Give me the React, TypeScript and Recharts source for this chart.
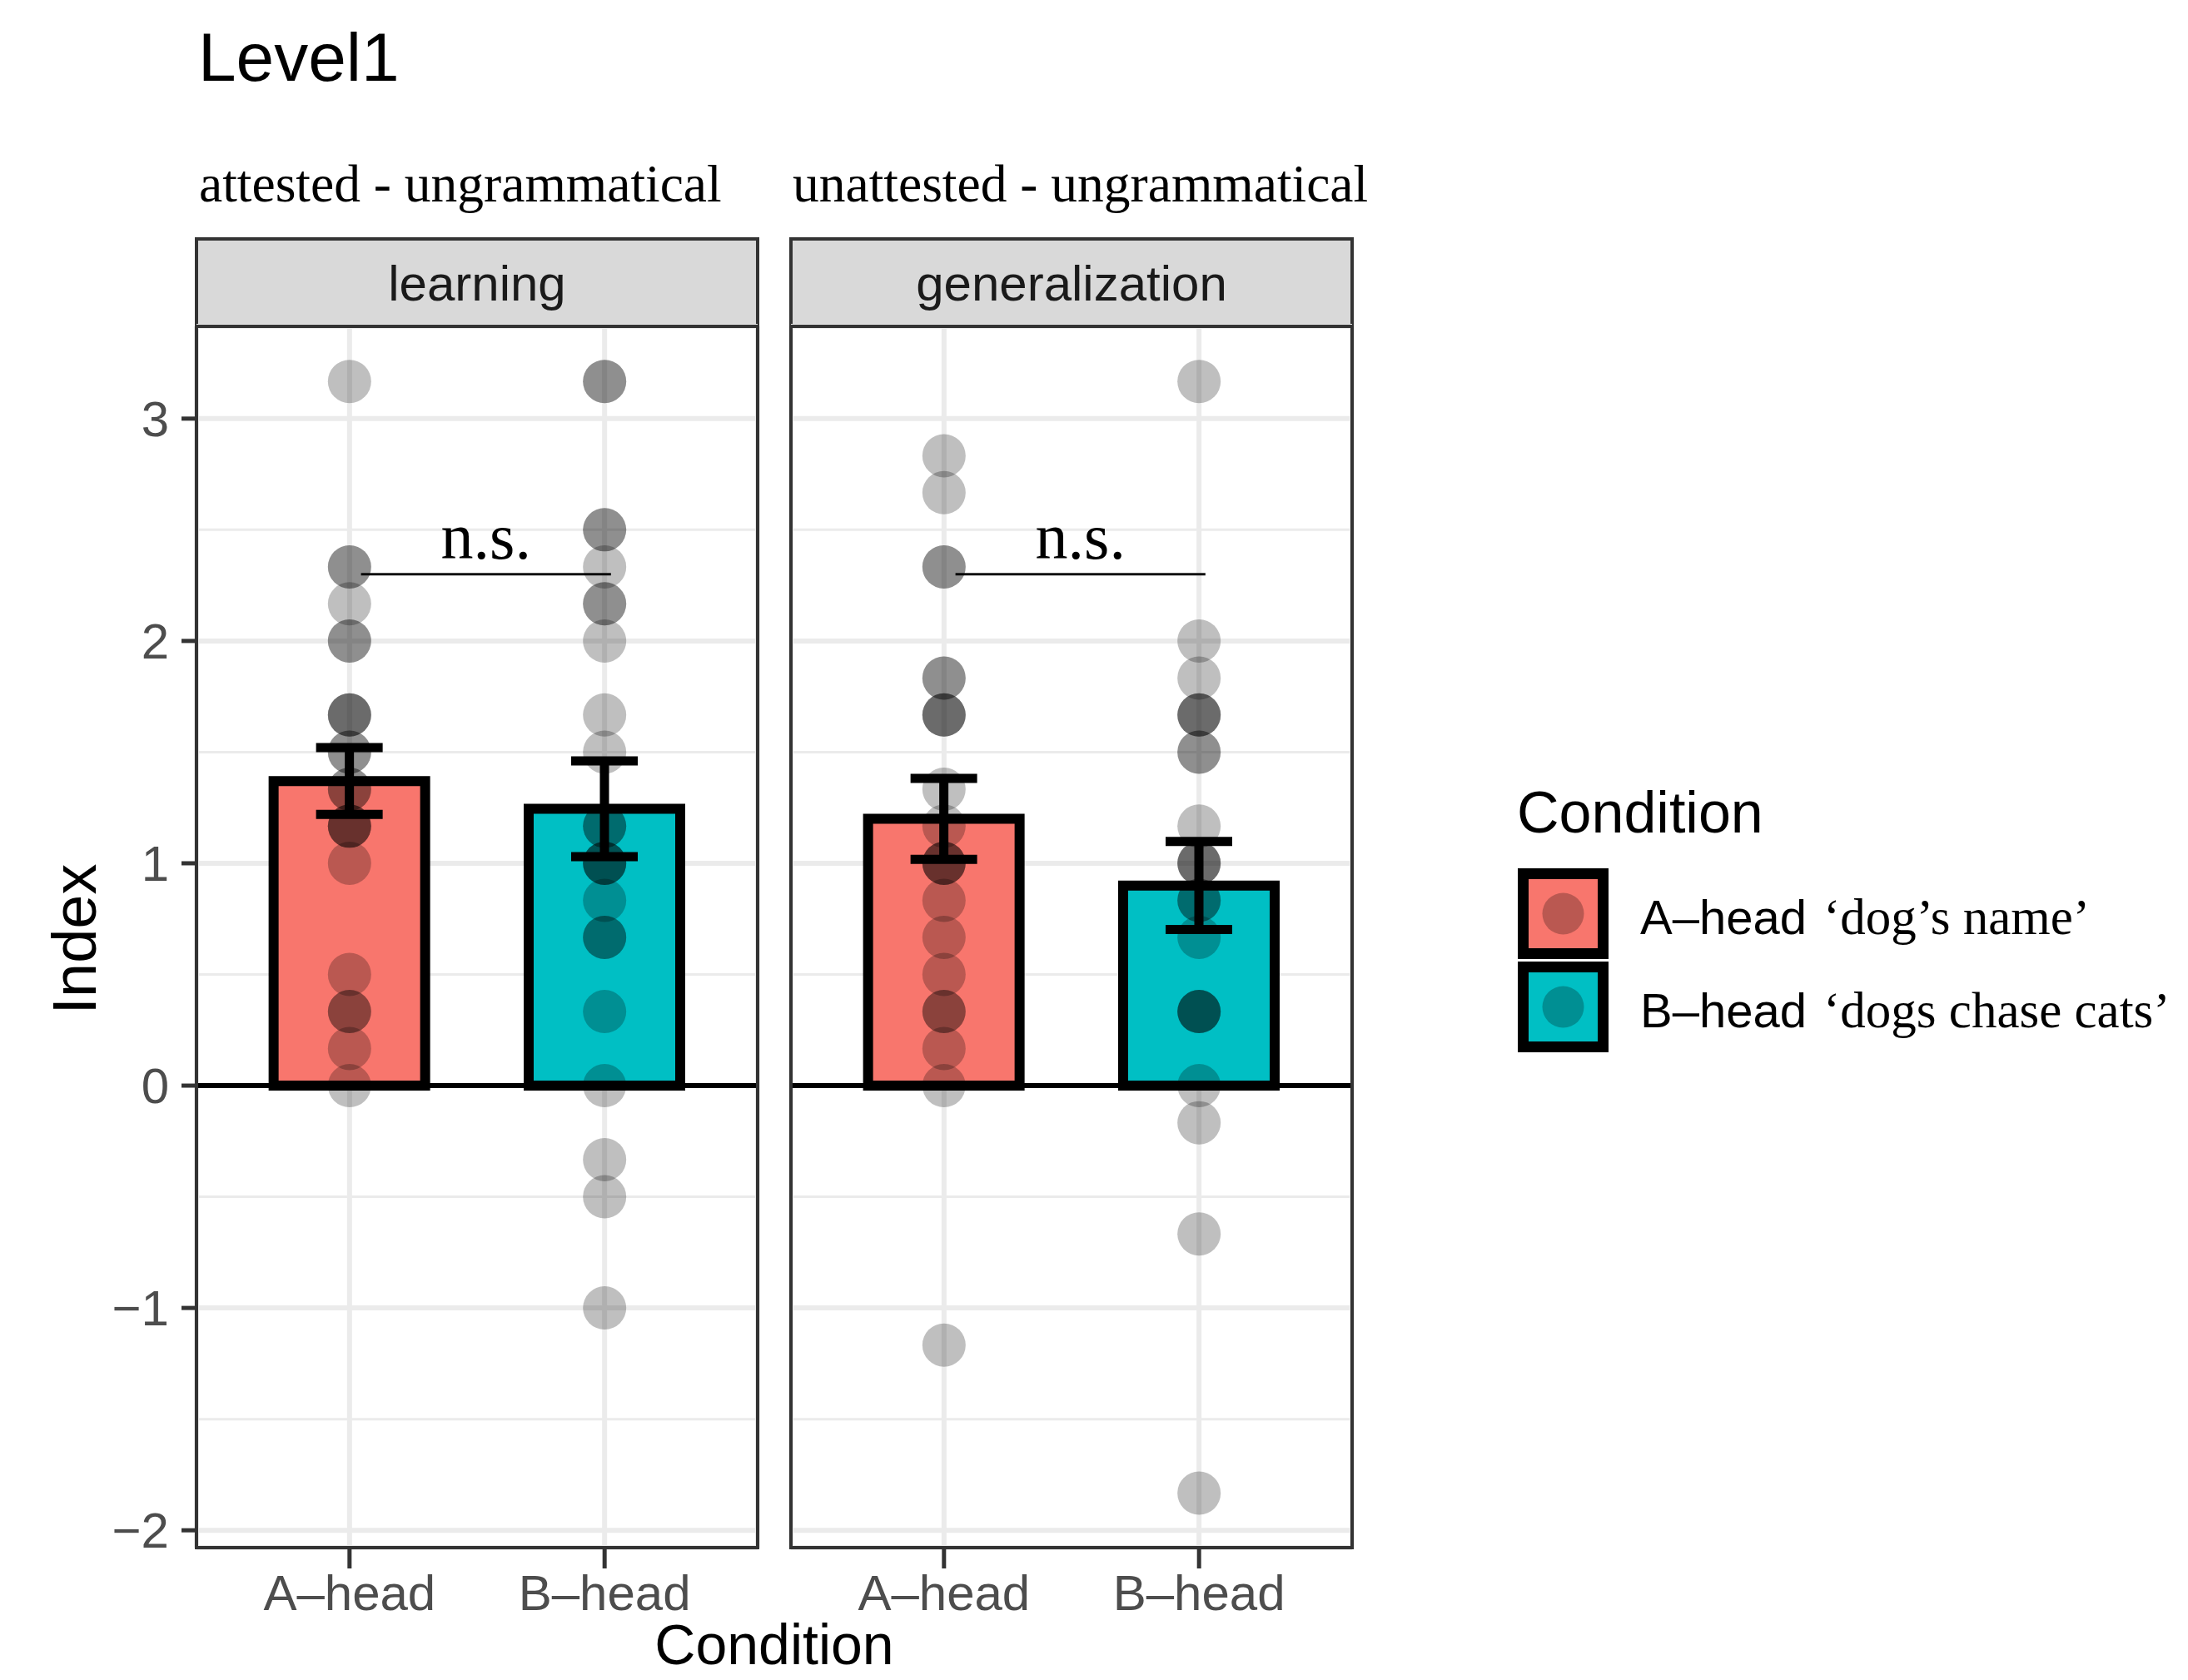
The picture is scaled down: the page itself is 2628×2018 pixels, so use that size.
import React from 'react';
import {
  ComposedChart,
  Bar,
  Cell,
  ErrorBar,
  Scatter,
  XAxis,
  YAxis,
  CartesianGrid,
  ReferenceLine,
  Label,
} from 'recharts';

// ---- data ----
const conditions = ['A–head', 'B–head'];
const conditionPos = [0.6, 1.6];
const conditionColors = ['#F8766D', '#00BFC4'];
const glossLabels = ['‘dog’s name’', '‘dogs chase cats’'];
const phases = ['learning', 'generalization'];
const contrasts = ['attested - ungrammatical', 'unattested - ungrammatical'];

const learningMeans = [1.37, 1.245];
const learningSE = [0.15, 0.215];
const generalizationMeans = [1.2, 0.9];
const generalizationSE = [0.182, 0.198];

// individual participants (repeated values overlap and look darker)
const learningA = [3.167, 2.333, 2.333, 2.167, 2, 2, 1.667, 1.667, 1.667, 1.5, 1.5, 1.333, 1.333, 1.167, 1.167, 1.167, 1, 0.5, 0.333, 0.333, 0.167, 0];
const learningB = [3.167, 3.167, 2.5, 2.5, 2.333, 2.167, 2.167, 2, 1.667, 1.5, 1.167, 1.167, 1, 1, 1, 0.833, 0.667, 0.667, 0.333, 0, -0.333, -0.5, -1];
const generalizationA = [2.833, 2.667, 2.333, 2.333, 1.833, 1.833, 1.667, 1.667, 1.667, 1.333, 1.167, 1, 1, 1, 0.833, 0.667, 0.5, 0.333, 0.333, 0.167, 0, -1.167];
const generalizationB = [3.167, 2, 1.833, 1.667, 1.667, 1.667, 1.5, 1.5, 1.167, 1, 1, 1, 0.833, 0.833, 0.667, 0.333, 0.333, 0.333, 0, -0.167, -0.667, -1.833];

const yTicks = [-2, -1, 0, 1, 2, 3];
const yMinor = [-1.5, -0.5, 0.5, 1.5, 2.5];
const yDomain = [-2.078, 3.415];
const xDomain = [0, 2.2];
const nsY = 2.3;
const nsFrom = 0.645;
const nsTo = 1.625;

const SANS = '"Liberation Sans", Arial, Helvetica, sans-serif';
const SERIF = '"Liberation Serif", "Times New Roman", serif';

const fmtY = (v: number) => (v < 0 ? '\u2212' + Math.abs(v) : String(v));
const fmtX = (v: number) => conditions[conditionPos.indexOf(v)] ?? '';

// minor grid rows, placed through the y axis scale when it is exposed
const minorRows = ({ yAxis, offset }: any) => {
  const s = yAxis && yAxis.scale;
  if (typeof s === 'function') return yMinor.map((v) => s(v));
  if (s && typeof s.map === 'function') return yMinor.map((v) => s.map(v));
  const [lo, hi] = yDomain;
  return yMinor.map((v) => offset.top + ((hi - v) / (hi - lo)) * offset.height);
};

type PanelProps = {
  means: number[];
  se: number[];
  dotsA: number[];
  dotsB: number[];
  left: number;
  width: number;
  margin: { top: number; right: number; bottom: number; left: number };
  showY: boolean;
};

const Panel: React.FC<PanelProps> = ({ means, se, dotsA, dotsB, left, width, margin, showY }) => {
  const bars = conditions.map((c, i) => ({ x: conditionPos[i], name: c, mean: means[i], se: se[i] }));
  const dots = [
    ...dotsA.map((v) => ({ x: conditionPos[0], v })),
    ...dotsB.map((v) => ({ x: conditionPos[1], v })),
  ];

  return (
    <div style={{ position: 'absolute', left, top: 380 }}>
      <ComposedChart width={width} height={1580} data={bars} margin={margin}>
        <CartesianGrid stroke="#ebebeb" strokeWidth={6} />
        <CartesianGrid stroke="#ebebeb" strokeWidth={3} vertical={false} horizontalCoordinatesGenerator={minorRows} />
        <XAxis
          dataKey="x"
          type="number"
          domain={xDomain}
          ticks={conditionPos}
          tickFormatter={fmtX}
          height={80}
          axisLine={false}
          tickSize={25}
          tickMargin={7}
          tickLine={{ stroke: '#333333', strokeWidth: 5 }}
          tick={{ fontSize: 60, fill: '#4d4d4d', fontFamily: SANS }}
          allowDataOverflow
        />
        <YAxis
          type="number"
          domain={yDomain}
          ticks={yTicks}
          tickFormatter={fmtY}
          width={100}
          hide={!showY}
          axisLine={false}
          tickSize={18}
          tickMargin={15}
          tickLine={{ stroke: '#333333', strokeWidth: 5 }}
          tick={{ fontSize: 60, fill: '#4d4d4d', fontFamily: SANS }}
          allowDataOverflow
        />
        <ReferenceLine y={0} stroke="#000" strokeWidth={6} />
        <Bar dataKey="mean" barSize={182} stroke="#000" strokeWidth={12} isAnimationActive={false}>
          {bars.map((b, i) => (
            <Cell key={b.name} fill={conditionColors[i]} />
          ))}
          <ErrorBar dataKey="se" width={40} strokeWidth={11} stroke="#000" direction="y" />
        </Bar>
        <Scatter
          data={dots}
          dataKey="v"
          isAnimationActive={false}
          shape={(p: any) => <circle cx={p.cx} cy={p.cy} r={26} fill="#000" fillOpacity={0.25} />}
        />
        <ReferenceLine
          segment={[
            { x: nsFrom, y: nsY },
            { x: nsTo, y: nsY },
          ]}
          stroke="#111"
          strokeWidth={3}
        >
          <Label value="n.s." position="top" offset={19} fontSize={78} fontFamily={SERIF} fill="#000" />
        </ReferenceLine>
      </ComposedChart>
    </div>
  );
};

const panelBoxes = [
  { x: 236, w: 674 },
  { x: 950, w: 674 },
];

export default function App() {
  return (
    <div style={{ position: 'fixed', left: 0, top: 0, width: 2628, height: 2018, background: '#fff', overflow: 'hidden' }}>
      <svg width={2628} height={2018} style={{ position: 'absolute', left: 0, top: 0 }}>
        <text x={238} y={97} fontSize={82} fontFamily={SANS} fill="#000">Level1</text>
        {contrasts.map((t, i) => (
          <text key={t} x={i === 0 ? 239 : 952} y={242} fontSize={63.5} fontFamily={SERIF} fill="#000">{t}</text>
        ))}
        {phases.map((p, i) => (
          <g key={p}>
            <rect x={panelBoxes[i].x} y={287} width={panelBoxes[i].w} height={105} fill="#d9d9d9" stroke="#333333" strokeWidth={4} />
            <text x={panelBoxes[i].x + panelBoxes[i].w / 2} y={361} textAnchor="middle" fontSize={60} fontFamily={SANS} fill="#1a1a1a">{p}</text>
          </g>
        ))}
        <text transform="translate(115,1128) rotate(-90)" textAnchor="middle" fontSize={74} fontFamily={SANS} fill="#000">Index</text>
        <text x={930} y={1999} textAnchor="middle" fontSize={68} fontFamily={SANS} fill="#000">Condition</text>

        <text x={1822} y={1000} fontSize={70} fontFamily={SANS} fill="#000">Condition</text>
        {conditions.map((c, i) => {
          const top = i === 0 ? 1043 : 1155;
          return (
            <g key={c}>
              <rect x={1829.5} y={top + 6.5} width={96} height={96} fill={conditionColors[i]} stroke="#000" strokeWidth={13} />
              <circle cx={1877.5} cy={top + 54.5} r={25} fill="#000" fillOpacity={0.25} />
              <text x={1970} y={top + 79} fontSize={58} fontFamily={SANS} fill="#000">{c}</text>
              <text x={2190} y={top + 79} fontSize={61} fontFamily={SERIF} fill="#000">{glossLabels[i]}</text>
            </g>
          );
        })}
      </svg>

      <Panel
        means={learningMeans}
        se={learningSE}
        dotsA={learningA}
        dotsB={learningB}
        left={0}
        width={930}
        margin={{ top: 12, right: 20, bottom: 21, left: 136 }}
        showY
      />
      <Panel
        means={generalizationMeans}
        se={generalizationSE}
        dotsA={generalizationA}
        dotsB={generalizationB}
        left={940}
        width={700}
        margin={{ top: 12, right: 16, bottom: 21, left: 10 }}
        showY={false}
      />

      <svg width={2628} height={2018} style={{ position: 'absolute', left: 0, top: 0, pointerEvents: 'none' }}>
        {panelBoxes.map((b) => (
          <rect key={b.x} x={b.x} y={392} width={b.w} height={1467} fill="none" stroke="#333333" strokeWidth={4} />
        ))}
      </svg>
    </div>
  );
}
